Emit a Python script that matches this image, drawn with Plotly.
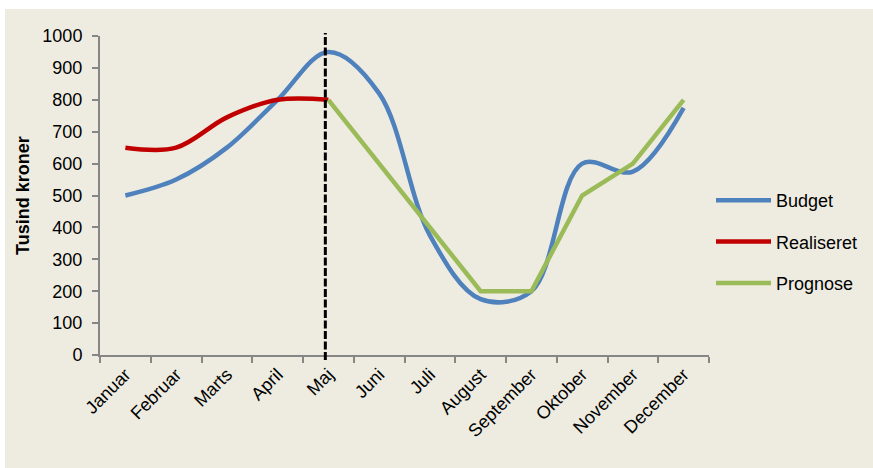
import plotly.graph_objects as go

months = ["Januar", "Februar", "Marts", "April", "Maj", "Juni", "Juli",
          "August", "September", "Oktober", "November", "December"]

budget = [500, 550, 650, 800, 950, 820, 375, 175, 200, 600, 575, 775]
realiseret = [650, 650, 745, 800, 800]
prognose = [800, 600, 400, 200, 200, 500, 600, 800]

y_ticks = list(range(0, 1001, 100))
split_idx = len(realiseret) - 1

BG = "#EEECE1"
FONT = "Liberation Sans, Arial, sans-serif"
FS = 18

fig = go.Figure()

fig.add_trace(go.Scatter(
    x=months, y=budget, name="Budget", mode="lines",
    line=dict(color="#4F81BD", width=4.5, shape="spline", smoothing=1.0),
    legendgroup="b",
))
fig.add_trace(go.Scatter(
    x=months[:len(realiseret)], y=realiseret, name="Realiseret", mode="lines",
    line=dict(color="#C00000", width=4.5, shape="spline", smoothing=1.0),
    legendgroup="r",
))
fig.add_trace(go.Scatter(
    x=months[split_idx:], y=prognose, name="Prognose", mode="lines",
    line=dict(color="#9BBB59", width=4.5),
    legendgroup="p",
))

W, H = 873, 468
L, R, T, B = 100, 164, 36, 113
pw, ph = W - L - R, H - T - B

def px_x(p):
    return (p - L) / pw

def px_y(p):
    return (H - B - p) / ph

# position of the split month on the category axis, as a fraction of the plot width
split_frac = (split_idx + 0.5) / len(months)

fig.update_layout(
    width=W, height=H,
    margin=dict(l=L, r=R, t=T, b=B, autoexpand=False),
    paper_bgcolor=BG, plot_bgcolor=BG,
    font=dict(family=FONT, size=FS, color="black"),
    showlegend=True,
    legend=dict(
        x=px_x(711), xanchor="left", y=px_y(242), yanchor="middle",
        bgcolor="rgba(0,0,0,0)", tracegroupgap=15,
        font=dict(size=FS), itemwidth=55,
    ),
    xaxis=dict(
        type="category", range=[-0.5, len(months) - 0.5],
        showgrid=False, showline=True, linecolor="#868686", linewidth=2,
        ticks="outside", tickson="boundaries", ticklen=6, tickcolor="#868686",
        tickwidth=2, tickangle=-45, tickfont=dict(size=FS),
    ),
    yaxis=dict(
        range=[0, 1000], tickvals=y_ticks, showgrid=False, zeroline=False,
        showline=True, linecolor="#868686", linewidth=2,
        ticks="outside", ticklen=6, tickcolor="#868686", tickwidth=2,
        tickfont=dict(size=FS), ticklabelstandoff=6,
    ),
    shapes=[
        # dashed divider between realised and forecast months
        dict(type="line", xref="paper", yref="paper",
             x0=split_frac - 0.005, x1=split_frac - 0.005,
             y0=px_y(360), y1=px_y(33),
             line=dict(color="black", width=3, dash="8px,2.5px"),
             layer="above"),
        dict(type="rect", xref="paper", yref="paper",
             x0=px_x(-5), x1=px_x(5), y0=px_y(480), y1=px_y(-5),
             fillcolor="white", line=dict(width=0), layer="above"),
        dict(type="rect", xref="paper", yref="paper",
             x0=px_x(-5), x1=px_x(880), y0=px_y(9), y1=px_y(-5),
             fillcolor="white", line=dict(width=0), layer="above"),
    ],
    annotations=[
        dict(text="<b>Tusind kroner</b>", xref="paper", yref="paper",
             x=px_x(23), y=px_y(195), textangle=-90, showarrow=False,
             font=dict(size=FS), xanchor="center", yanchor="middle"),
    ],
)

fig.write_html("out.html")
